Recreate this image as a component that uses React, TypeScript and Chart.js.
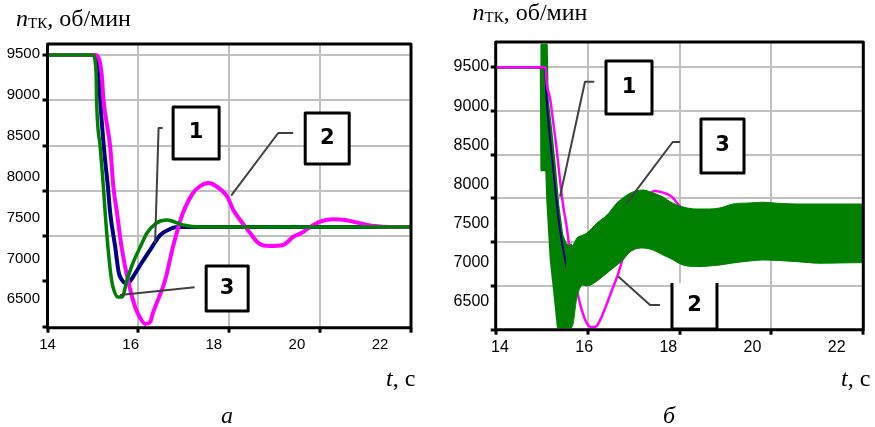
import React, { useEffect, useRef } from 'react';
import { Chart, registerables } from 'chart.js';

Chart.register(...registerables);

// ---- axis ticks ----
const timeTicks = [14, 16, 18, 20, 22];
const speedTicks = [6500, 7000, 7500, 8000, 8500, 9000, 9500];

// ---- panel а ----
const aMagentaT = [14, 15.05, 15.19, 15.23, 15.38, 15.45, 15.53, 15.63, 15.77, 15.93, 16.04, 16.15, 16.26, 16.32, 16.59, 16.76, 16.98, 17.2, 17.36, 17.54, 17.71, 17.96, 18.09, 18.24, 18.46, 18.61, 18.75, 18.9, 19.18, 19.41, 19.6, 19.78, 20.04, 20.29, 20.55, 20.73, 20.95, 21.21, 21.54, 22];
const aMagentaN = [9500, 9500, 9301, 9014, 8483, 8041, 7754, 7378, 7014, 6715, 6594, 6528, 6550, 6649, 7014, 7378, 7754, 7975, 8052, 8086, 8052, 7931, 7787, 7677, 7533, 7437, 7395, 7390, 7400, 7492, 7536, 7600, 7666, 7684, 7677, 7658, 7633, 7610, 7599, 7599];
const aBlueT = [14, 14.98, 15.13, 15.16, 15.24, 15.33, 15.38, 15.49, 15.57, 15.64, 15.71, 15.8, 15.88, 16.07, 16.3, 16.48, 16.65, 16.85, 17.2, 22];
const aBlueN = [9500, 9500, 9301, 9014, 8483, 8041, 7754, 7378, 7091, 7014, 6980, 6992, 7047, 7202, 7378, 7511, 7566, 7599, 7599, 7599];
const aGreenT = [14, 15.0, 15.07, 15.08, 15.16, 15.23, 15.27, 15.33, 15.41, 15.46, 15.55, 15.64, 15.75, 15.88, 16.04, 16.19, 16.4, 16.63, 16.98, 17.36, 18.0, 19.0, 20.0, 21.0, 22];
const aGreenN = [9500, 9500, 9301, 9014, 8483, 8041, 7754, 7378, 7014, 6903, 6826, 6826, 7014, 7202, 7378, 7533, 7644, 7677, 7622, 7599, 7599, 7599, 7599, 7599, 7599];

// ---- panel б ----
const bMagentaT = [14, 15.084, 15.11, 15.182, 15.254, 15.328, 15.399, 15.471, 15.545, 15.617, 15.704, 15.798, 15.872, 15.98, 16.089, 16.198, 16.307, 16.45, 16.559, 16.668, 16.777, 16.923, 17.14, 17.315, 17.467, 17.641, 17.83, 17.946, 18.12, 18.42, 18.88, 19.53, 20.4, 21.28, 22];
const bMagentaN = [9500, 9500, 9317, 9149, 8863, 8555, 8212, 7907, 7678, 7380, 7107, 6879, 6727, 6577, 6528, 6543, 6649, 6840, 6992, 7145, 7335, 7583, 7869, 8029, 8086, 8067, 8021, 7949, 7846, 7640, 7411, 7469, 7617, 7583, 7606];
const bBlueT = [14, 15.073, 15.11, 15.254, 15.328, 15.399, 15.471, 15.58, 15.726, 16.05, 16.706, 17.576, 18.88, 22];
const bBlueN = [9500, 9500, 9126, 8326, 7949, 7640, 7412, 7149, 7069, 7297, 7526, 7617, 7606, 7606];
// green curve 3: transient strands (envelope)
const bGreenAT = [14, 14.986, 15.0, 15.106, 15.127, 15.203, 15.29, 15.356, 15.443, 15.53, 15.66];
const bGreenAHi = [9500, 9500, 9755, 9755, 9126, 8783, 8326, 7926, 7583, 7469, 7469];
const bGreenALo = [9500, 9500, 8326, 8326, 7983, 7297, 6874, 6531, 6531, 6531, 6531];
// green curve 3: oscillation band (upper / lower envelope)
const bGreenBT = [15.53, 15.66, 15.769, 15.9, 15.987, 16.205, 16.422, 16.64, 16.77, 16.858, 16.988, 17.206, 17.424, 17.641, 17.793, 18.076, 18.38, 18.663, 18.881, 19.164, 19.534, 19.817, 20.121, 20.557, 21.057, 21.492, 22.0];
const bGreenBHi = [7469, 7457, 7549, 7583, 7606, 7720, 7811, 7949, 8006, 8040, 8075, 8097, 8063, 8017, 7964, 7903, 7880, 7880, 7892, 7937, 7949, 7957, 7946, 7937, 7937, 7937, 7937];
const bGreenBLo = [6531, 6531, 6874, 7012, 7000, 7057, 7148, 7240, 7297, 7354, 7411, 7434, 7411, 7354, 7317, 7240, 7221, 7229, 7240, 7263, 7286, 7297, 7292, 7278, 7260, 7263, 7267];

// ---- callouts (data coordinates) ----
const boxesA = [
  { label: '1', t: 17.271, n: 8638, w: 46, h: 52 },
  { label: '2', t: 20.156, n: 8577, w: 44, h: 51 },
  { label: '3', t: 17.954, n: 6920, w: 42, h: 45 },
];
const leadersA = [
  [[16.533, 8693], [16.445, 8693], [16.368, 7423]],
  [[19.407, 8638], [19.077, 8638], [18.042, 7947]],
  [[17.238, 6933], [15.597, 6848]],
];
const boxesB = [
  { label: '1', t: 16.901, n: 9269, w: 46, h: 53 },
  { label: '3', t: 18.936, n: 8600, w: 43, h: 54 },
  { label: '2', t: 18.326, n: 6772, w: 45, h: 46, openTop: true },
];
const leadersB = [
  [[16.146, 9335], [15.943, 9335], [15.399, 8021]],
  [[18.011, 8646], [17.852, 8646], [16.851, 7946]],
  [[17.576, 6783], [17.359, 6783], [16.668, 7107]],
];

const SERIF = "'Liberation Serif', 'Times New Roman', serif";
const SANS = "'Liberation Sans', Arial, sans-serif";
const GREEN = '#008000';
const MAGENTA = '#ff00ff';
const NAVY = '#000080';

const pts = (t: number[], n: number[]) => t.map((x, i) => ({ x, y: n[i] }));

function line(t: number[], n: number[], color: string, width: number, order: number, extra: any = {}) {
  return {
    data: pts(t, n),
    borderColor: color,
    backgroundColor: color,
    borderWidth: width,
    order,
    pointRadius: 0,
    fill: false,
    cubicInterpolationMode: 'monotone',
    borderJoinStyle: 'round',
    xAxisID: 'x',
    yAxisID: 'y',
    ...extra,
  };
}

function calloutPlugin(boxes: any[], leaders: number[][][]) {
  return {
    id: 'callouts',
    afterDatasetsDraw(chart: any) {
      const { ctx, chartArea } = chart;
      const xs = chart.scales.x;
      const ys = chart.scales.y;
      ctx.save();
      ctx.strokeStyle = '#404040';
      ctx.lineWidth = 2;
      ctx.lineJoin = 'round';
      leaders.forEach((p) => {
        ctx.beginPath();
        p.forEach(([t, n], i) => {
          const px = xs.getPixelForValue(t);
          const py = ys.getPixelForValue(n);
          if (i === 0) ctx.moveTo(px, py);
          else ctx.lineTo(px, py);
        });
        ctx.stroke();
      });
      boxes.forEach((b) => {
        const cx = xs.getPixelForValue(b.t);
        const cy = ys.getPixelForValue(b.n);
        const l = cx - b.w / 2;
        const tp = cy - b.h / 2;
        ctx.fillStyle = '#fff';
        ctx.fillRect(l, tp, b.w, b.h);
        ctx.strokeStyle = '#000';
        ctx.lineWidth = 3;
        if (b.openTop) {
          ctx.beginPath();
          ctx.moveTo(l, tp);
          ctx.lineTo(l, tp + b.h);
          ctx.lineTo(l + b.w, tp + b.h);
          ctx.lineTo(l + b.w, tp);
          ctx.stroke();
        } else {
          ctx.strokeRect(l, tp, b.w, b.h);
        }
        ctx.fillStyle = '#000';
        ctx.font = "bold 21px 'DejaVu Sans', sans-serif";
        ctx.textAlign = 'center';
        ctx.textBaseline = 'middle';
        ctx.fillText(b.label, cx, cy);
      });
      ctx.strokeStyle = '#000';
      ctx.lineWidth = 3;
      ctx.strokeRect(chartArea.left, chartArea.top, chartArea.right - chartArea.left, chartArea.bottom - chartArea.top);
      ctx.restore();
    },
  };
}

function buildScales(p: any) {
  const setTicks = (vals: number[]) => (axis: any) => {
    axis.ticks = vals.map((value) => ({ value }));
  };
  const gridAxis = (axis: string, range: number[], vals: number[], hide: number[], pos: string) => ({
    type: 'linear',
    axis,
    position: pos,
    weight: 0,
    min: range[0],
    max: range[1],
    afterBuildTicks: setTicks(vals),
    afterFit: (s: any) => {
      if (axis === 'x') s.height = 5;
      else s.width = 5;
    },
    ticks: { display: false },
    border: { display: false },
    grid: {
      drawTicks: true,
      tickLength: 5,
      tickWidth: 3,
      tickColor: '#000',
      lineWidth: 2,
      color: (c: any) => (c.tick && hide.includes(c.tick.value) ? 'rgba(0,0,0,0)' : '#c0c0c0'),
    },
  });
  const labelAxis = (axis: string, range: number[], vals: number[], pos: string, size: number, pad: number, fitSize: number) => ({
    type: 'linear',
    axis,
    position: pos,
    weight: 1,
    min: range[0],
    max: range[1],
    afterBuildTicks: setTicks(vals),
    afterFit: (s: any) => {
      if (axis === 'x') s.height = fitSize;
      else s.width = fitSize;
    },
    ticks: {
      display: true,
      padding: pad,
      color: '#000',
      font: { family: SANS, size },
      autoSkip: false,
      maxRotation: 0,
      minRotation: 0,
      callback: (v: any) => String(v),
    },
    border: { display: false },
    grid: { display: false, drawTicks: false },
  });
  return {
    x: gridAxis('x', p.xGrid, timeTicks, p.hideX, 'bottom'),
    xl: labelAxis('x', p.xLabel, timeTicks, 'bottom', p.fontX, 3, 20),
    y: gridAxis('y', p.yGrid, speedTicks, p.hideY, 'left'),
    yl: labelAxis('y', p.yLabel, speedTicks, 'left', p.fontY, p.ylPad, p.ylWidth),
  };
}

function makeConfig(p: any): any {
  return {
    type: 'line',
    data: { datasets: p.datasets },
    options: {
      animation: false,
      responsive: false,
      maintainAspectRatio: false,
      events: [],
      layout: { padding: p.padding },
      plugins: { legend: { display: false }, tooltip: { enabled: false }, title: { display: false } },
      elements: { point: { radius: 0 } },
      scales: buildScales(p),
    },
    plugins: [calloutPlugin(p.boxes, p.leaders)],
  };
}

const panelA = {
  padding: { left: 0, top: 44, right: 26, bottom: 74.3 },
  xGrid: [14, 22],
  yGrid: [6487, 9621.5],
  xLabel: [14, 22.745],
  yLabel: [6152, 9626],
  hideX: [14, 22],
  hideY: [6500, 7000],
  fontX: 15,
  fontY: 15,
  ylPad: 2.5,
  ylWidth: 42.5,
  boxes: boxesA,
  leaders: leadersA,
  datasets: [
    line(aGreenT, aGreenN, GREEN, 3.5, 0),
    line(aMagentaT, aMagentaN, MAGENTA, 4, 1),
    line(aBlueT, aBlueN, NAVY, 4, 2),
  ],
};

const panelB = {
  padding: { left: 0, top: 42, right: 11.7, bottom: 72.3 },
  xGrid: [14, 22],
  yGrid: [6500, 9789],
  xLabel: [13.898, 22.632],
  yLabel: [6142, 9819.5],
  hideX: [14, 22],
  hideY: [6500],
  fontX: 16,
  fontY: 16,
  ylPad: 1.5,
  ylWidth: 53.7,
  boxes: boxesB,
  leaders: leadersB,
  datasets: [
    line(bGreenBT, bGreenBHi, GREEN, 1, 0),
    line(bGreenBT, bGreenBLo, GREEN, 1, 0, { fill: '-1' }),
    line(bMagentaT, bMagentaN, MAGENTA, 2.5, 1),
    line(bBlueT, bBlueN, NAVY, 2, 2),
    line(bGreenAT, bGreenAHi, GREEN, 2.5, 3, { cubicInterpolationMode: 'default', tension: 0 }),
    line(bGreenAT, bGreenALo, GREEN, 2.5, 3, { cubicInterpolationMode: 'default', tension: 0, fill: '-1' }),
  ],
};

const textBase: React.CSSProperties = {
  position: 'absolute',
  fontFamily: SERIF,
  fontSize: 24,
  lineHeight: '24px',
  whiteSpace: 'nowrap',
  color: '#000',
};

function Title({ left, baseline }: { left: number; baseline: number }) {
  return (
    <div style={{ ...textBase, left, top: baseline - 20.1 }}>
      <i>n</i>
      <span style={{ fontSize: 15, lineHeight: '1', verticalAlign: '-1.5px' }}>ТК</span>, об/мин
    </div>
  );
}

export default function App() {
  const refA = useRef<HTMLCanvasElement>(null);
  const refB = useRef<HTMLCanvasElement>(null);
  useEffect(() => {
    const a = new Chart(refA.current as HTMLCanvasElement, makeConfig(panelA));
    const b = new Chart(refB.current as HTMLCanvasElement, makeConfig(panelB));
    return () => {
      a.destroy();
      b.destroy();
    };
  }, []);
  return (
    <div style={{ position: 'absolute', left: 0, top: 0, width: 875, height: 427, background: '#fff', overflow: 'hidden' }}>
      <canvas ref={refA} width={437} height={427} style={{ position: 'absolute', left: 0, top: 0 }} />
      <canvas ref={refB} width={438} height={427} style={{ position: 'absolute', left: 437, top: 0 }} />
      <Title left={16} baseline={26} />
      <Title left={472.5} baseline={20} />
      <div style={{ ...textBase, left: 386, top: 386 - 20.1 }}>
        <i>t</i>, с
      </div>
      <div style={{ ...textBase, left: 841, top: 386 - 20.1 }}>
        <i>t</i>, с
      </div>
      <div style={{ ...textBase, left: 221, top: 423 - 20.1 }}>
        <i>а</i>
      </div>
      <div style={{ ...textBase, left: 663, top: 423 - 20.1 }}>
        <i>б</i>
      </div>
    </div>
  );
}
